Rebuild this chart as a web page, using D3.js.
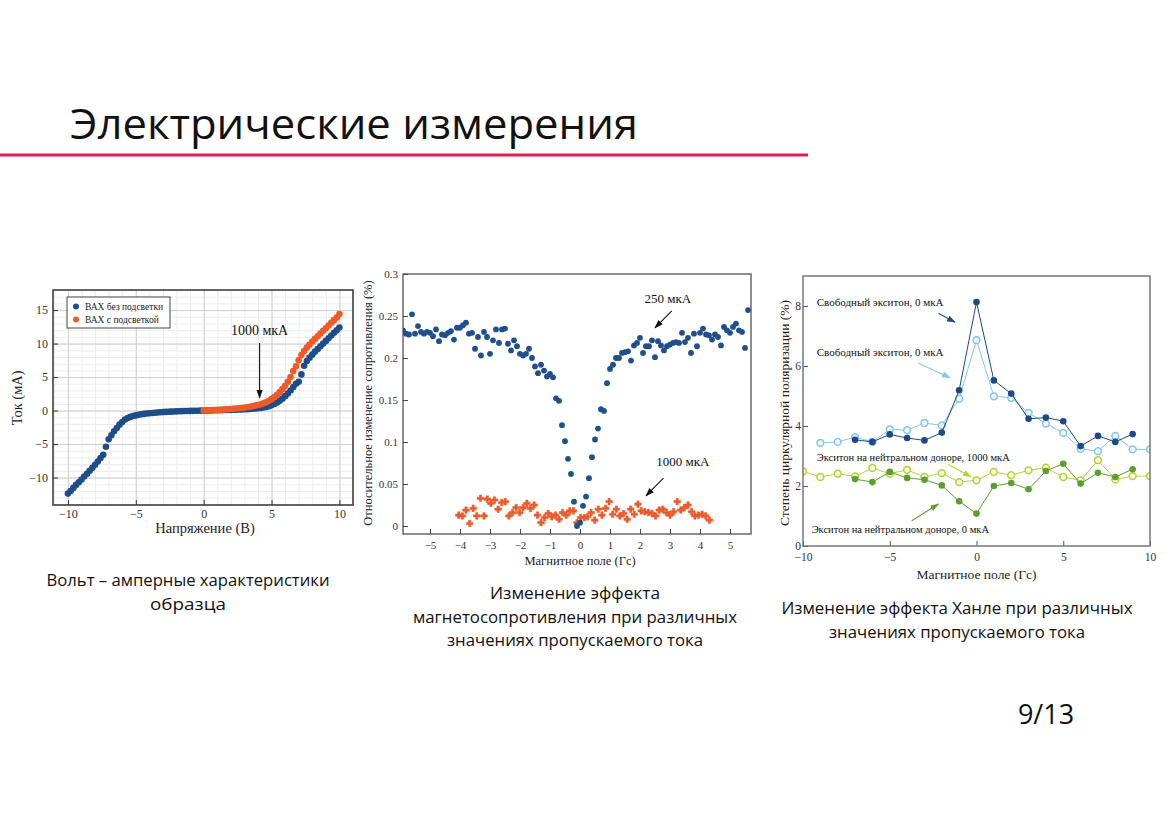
<!DOCTYPE html>
<html>
<head>
<meta charset="utf-8">
<script src="https://cdn.jsdelivr.net/npm/d3@7"></script>
<style>
  body { margin: 0; background: #fff; }
  svg { display: block; }
  .axis text { font-family: "Liberation Serif", serif; fill: #333; }
</style>
</head>
<body>
<svg id="slide" width="1169" height="826"></svg>
<script>
// ---------- slide texts
const slideTitle = 'Электрические измерения';
const caption1 = ['Вольт – амперные характеристики', 'образца'];
const caption2 = ['Изменение эффекта', 'магнетосопротивления при различных', 'значениях пропускаемого тока'];
const caption3 = ['Изменение эффекта Ханле при различных', 'значениях пропускаемого тока'];
const pageNo = '9/13';

// ---------- chart 1: I-V curves (V, mA)
const ivTicksX = [-10, -5, 0, 5, 10];
const ivTicksY = [-10, -5, 0, 5, 10, 15];
const ivLegend = ['ВАХ без подсветки', 'ВАХ с подсветкой'];
const ivVoltDark = [
  -10, -9.8, -9.6, -9.4, -9.2, -9, -8.8, -8.6, -8.4, -8.2,
  -8, -7.8, -7.6, -7.4, -7.2, -7, -6.8, -6.6, -6.4, -6.2,
  -6, -5.8, -5.6, -5.4, -5.2, -5, -4.8, -4.6, -4.4, -4.2,
  -4, -3.8, -3.6, -3.4, -3.2, -3, -2.8, -2.6, -2.4, -2.2,
  -2, -1.8, -1.6, -1.4, -1.2, -1, -0.8, -0.6, -0.4, -0.2,
  0, 0.2, 0.4, 0.6, 0.8, 1, 1.2, 1.4, 1.6, 1.8,
  2, 2.2, 2.4, 2.6, 2.8, 3, 3.2, 3.4, 3.6, 3.8,
  4, 4.2, 4.4, 4.6, 4.8, 5, 5.2, 5.4, 5.6, 5.8,
  6, 6.2, 6.4, 6.6, 6.8, 7, 7.2, 7.4, 7.6, 7.8,
  8, 8.2, 8.4, 8.6, 8.8, 9, 9.2, 9.4, 9.6, 9.8,
  10];
const ivCurDark = [
  -12.4, -12.0, -11.55, -11.1, -10.7, -10.3, -9.85, -9.45, -9.0, -8.55,
  -8.1, -7.6, -7.1, -6.6, -5.4, -4.3, -3.7, -3.1, -2.6, -2.1,
  -1.7, -1.35, -1.1, -0.95, -0.82, -0.72, -0.63, -0.56, -0.5, -0.45,
  -0.4, -0.36, -0.32, -0.29, -0.26, -0.23, -0.2, -0.18, -0.16, -0.14,
  -0.12, -0.1, -0.09, -0.07, -0.06, -0.05, -0.04, -0.03, -0.02, -0.01,
  0, 0.01, 0.02, 0.03, 0.04, 0.05, 0.06, 0.07, 0.08, 0.09,
  0.1, 0.12, 0.13, 0.15, 0.17, 0.19, 0.21, 0.24, 0.27, 0.31,
  0.35, 0.4, 0.46, 0.55, 0.66, 0.8, 0.98, 1.2, 1.47, 1.78,
  2.15, 2.55, 3.0, 3.5, 4.0, 4.3, 5.4, 6.7, 7.4, 7.9,
  8.35, 8.8, 9.2, 9.6, 10.0, 10.4, 10.8, 11.2, 11.6, 12.0,
  12.4];
const ivVoltLight = [
  0, 0.2, 0.4, 0.6, 0.8, 1, 1.2, 1.4, 1.6, 1.8,
  2, 2.2, 2.4, 2.6, 2.8, 3, 3.2, 3.4, 3.6, 3.8,
  4, 4.2, 4.4, 4.6, 4.8, 5, 5.2, 5.4, 5.6, 5.8,
  6, 6.2, 6.4, 6.6, 6.8, 7, 7.2, 7.4, 7.6, 7.8,
  8, 8.2, 8.4, 8.6, 8.8, 9, 9.2, 9.4, 9.6, 9.8,
  10];
const ivCurLight = [
  0, 0.02, 0.04, 0.06, 0.08, 0.1, 0.12, 0.14, 0.17, 0.2,
  0.23, 0.26, 0.3, 0.34, 0.39, 0.44, 0.5, 0.57, 0.65, 0.74,
  0.84, 0.95, 1.08, 1.25, 1.45, 1.7, 2.0, 2.35, 2.75, 3.2,
  3.7, 4.3, 5.0, 5.9, 6.6, 7.5, 8.3, 8.9, 9.4, 9.85,
  10.3, 10.7, 11.1, 11.5, 11.9, 12.3, 12.7, 13.1, 13.5, 13.9,
  14.4];

// ---------- chart 2: magnetoresistance (Гс, %)
const mrTicksX = [-5, -4, -3, -2, -1, 0, 1, 2, 3, 4, 5];
const mrTicksY = [0, 0.05, 0.1, 0.15, 0.2, 0.25, 0.3];
const mrField250 = [
  -5.9, -5.8, -5.7, -5.6, -5.5, -5.4, -5.3, -5.2, -5.1, -5.0,
  -4.9, -4.8, -4.7, -4.6, -4.5, -4.4, -4.3, -4.2, -4.1, -4.0,
  -3.9, -3.8, -3.7, -3.6, -3.5, -3.4, -3.3, -3.2, -3.1, -3.0,
  -2.9, -2.8, -2.7, -2.6, -2.5, -2.4, -2.3, -2.2, -2.1, -2.0,
  -1.9, -1.8, -1.7, -1.6, -1.5, -1.4, -1.3, -1.2, -1.1, -1.0,
  -0.9, -0.8, -0.7, -0.6, -0.5, -0.4, -0.3, -0.2, -0.1, 0,
  0.1, 0.2, 0.3, 0.4, 0.5, 0.6, 0.7, 0.8, 0.9, 1.0,
  1.1, 1.2, 1.3, 1.4, 1.5, 1.6, 1.7, 1.8, 1.9, 2.0,
  2.1, 2.2, 2.3, 2.4, 2.5, 2.6, 2.7, 2.8, 2.9, 3.0,
  3.1, 3.2, 3.3, 3.4, 3.5, 3.6, 3.7, 3.8, 3.9, 4.0,
  4.1, 4.2, 4.3, 4.4, 4.5, 4.6, 4.7, 4.8, 4.9, 5.0,
  5.1, 5.2, 5.3, 5.4, 5.5, 5.6];
const mrValue250 = [
  0.233, 0.229, 0.228, 0.252, 0.229, 0.238, 0.231, 0.229, 0.231, 0.230,
  0.226, 0.234, 0.220, 0.228, 0.227, 0.230, 0.232, 0.222, 0.236, 0.236,
  0.239, 0.242, 0.229, 0.230, 0.211, 0.225, 0.203, 0.231, 0.225, 0.205,
  0.221, 0.234, 0.218, 0.234, 0.235, 0.217, 0.209, 0.221, 0.214, 0.205,
  0.203, 0.205, 0.211, 0.200, 0.190, 0.182, 0.192, 0.185, 0.178, 0.181,
  0.177, 0.152, 0.149, 0.120, 0.101, 0.080, 0.062, 0.029, 0.000, 0.004,
  0.024, 0.035, 0.057, 0.082, 0.103, 0.116, 0.139, 0.137, 0.170, 0.187,
  0.192, 0.200, 0.200, 0.206, 0.207, 0.208, 0.197, 0.215, 0.218, 0.224,
  0.206, 0.214, 0.214, 0.221, 0.201, 0.220, 0.215, 0.209, 0.214, 0.216,
  0.218, 0.219, 0.218, 0.230, 0.219, 0.224, 0.206, 0.229, 0.214, 0.230,
  0.235, 0.228, 0.227, 0.222, 0.228, 0.225, 0.215, 0.237, 0.233, 0.230,
  0.237, 0.241, 0.233, 0.231, 0.212, 0.257];
const mrField1000 = [
  -4.04, -3.92, -3.80, -3.68, -3.56, -3.44, -3.32, -3.20, -3.09, -2.97,
  -2.85, -2.73, -2.61, -2.49, -2.37, -2.25, -2.13, -2.01, -1.89, -1.77,
  -1.65, -1.53, -1.42, -1.30, -1.18, -1.06, -0.94, -0.82, -0.70, -0.58,
  -0.46, -0.34, -0.22, -0.10, 0.02, 0.14, 0.25, 0.37, 0.49, 0.61,
  0.73, 0.85, 0.97, 1.09, 1.21, 1.33, 1.45, 1.57, 1.69, 1.81,
  1.93, 2.04, 2.16, 2.28, 2.40, 2.52, 2.64, 2.76, 2.88, 3.00,
  3.12, 3.24, 3.36, 3.48, 3.60, 3.72, 3.83, 3.95, 4.07, 4.19,
  4.31];
const mrValue1000 = [
  0.013, 0.012, 0.019, 0.003, 0.021, 0.012, 0.033, 0.012, 0.032, 0.027,
  0.031, 0.020, 0.028, 0.029, 0.012, 0.016, 0.022, 0.016, 0.022, 0.027,
  0.021, 0.025, 0.013, 0.004, 0.010, 0.015, 0.011, 0.013, 0.008, 0.016,
  0.013, 0.018, 0.018, 0.004, 0.010, 0.010, 0.011, 0.016, 0.007, 0.020,
  0.013, 0.021, 0.029, 0.014, 0.020, 0.012, 0.015, 0.008, 0.020, 0.014,
  0.026, 0.018, 0.017, 0.016, 0.015, 0.012, 0.019, 0.020, 0.016, 0.013,
  0.017, 0.029, 0.019, 0.022, 0.025, 0.017, 0.012, 0.013, 0.014, 0.012,
  0.007];

// ---------- chart 3: Hanle effect (Гс, %)
const hnTicksX = [-10, -5, 0, 5, 10];
const hnTicksY = [0, 2, 4, 6, 8];
const hnFieldA = [-7, -6, -5, -4, -3, -2, -1, 0, 1, 2, 3, 4, 5, 6, 7, 8, 9];
const hnFieldB = [-9, -8, -7, -6, -5, -4, -3, -2, -1, 0, 1, 2, 3, 4, 5, 6, 7, 8, 9, 10];
const hnFieldC = [-10, -9, -8, -7, -6, -5, -4, -3, -2, -1, 0, 1, 2, 3, 4, 5, 6, 7, 8, 9, 10];
const freeExc0 = [3.54, 3.47, 3.72, 3.6, 3.52, 3.78, 5.19, 8.13, 5.52, 5.08, 4.24, 4.28, 4.16, 3.33, 3.67, 3.47, 3.73];
const freeExc1000 = [3.44, 3.47, 3.63, 3.47, 3.89, 3.86, 4.1, 4.02, 4.91, 6.86, 4.99, 4.94, 4.44, 4.08, 3.77, 3.24, 3.16, 3.67, 3.22, 3.22];
const donor1000 = [2.49, 2.3, 2.41, 2.32, 2.6, 2.41, 2.54, 2.3, 2.43, 2.13, 2.19, 2.47, 2.36, 2.52, 2.61, 2.3, 2.19, 2.86, 2.22, 2.33, 2.33];
const donor0 = [2.23, 2.13, 2.47, 2.27, 2.21, 2.02, 1.49, 1.08, 2.0, 2.1, 1.89, 2.5, 2.74, 2.08, 2.44, 2.3, 2.56];
const hnLabels = ['Свободный экситон, 0 мкА', 'Свободный экситон, 0 мкА',
  'Экситон на нейтральном доноре, 1000 мкА', 'Экситон на нейтральном доноре, 0 мкА'];

const serif = '"Liberation Serif", "Times New Roman", serif';
const sans = '"Open Sans", "Liberation Sans", sans-serif';

const svg = d3.select('#slide');
const defs = svg.append('defs');

function arrowHead(id, color) {
  defs.append('marker')
    .attr('id', id)
    .attr('viewBox', '0 0 10 10')
    .attr('refX', 9).attr('refY', 5)
    .attr('markerWidth', 8).attr('markerHeight', 8)
    .attr('orient', 'auto')
    .append('path')
    .attr('d', 'M0,1.5L10,5L0,8.5z')
    .attr('fill', color);
}
arrowHead('ah-black', '#111');
arrowHead('ah-dark', '#1b4a85');
arrowHead('ah-light', '#86c5ea');
arrowHead('ah-yellow', '#b3d235');
arrowHead('ah-green', '#5c9e2f');

// draws an arrow between two points given in data units
function arrow(g, x, y, from, to, id, color) {
  g.append('line')
    .attr('x1', x(from[0])).attr('y1', y(from[1]))
    .attr('x2', x(to[0])).attr('y2', y(to[1]))
    .attr('stroke', color).attr('stroke-width', 1.1)
    .attr('marker-end', `url(#${id})`);
}

// inward ticks on bottom + left, majors labelled, minors blank
function frameAxes(g, x, y, h, o) {
  const xa = g.append('g').attr('class', 'axis').attr('transform', `translate(0,${h})`);
  xa.call(d3.axisBottom(x).tickValues(o.minorX).tickSize(-3).tickFormat(''));
  xa.call(d3.axisBottom(x).tickValues(o.majorX).tickSizeInner(-5).tickSizeOuter(0).tickPadding(o.padX));
  const ya = g.append('g').attr('class', 'axis');
  ya.call(d3.axisLeft(y).tickValues(o.minorY).tickSize(-3).tickFormat(''));
  ya.call(d3.axisLeft(y).tickValues(o.majorY).tickSizeInner(-5).tickSizeOuter(0).tickPadding(o.padY).tickFormat(o.fmtY || null));
  g.selectAll('.axis .domain').remove();
  g.selectAll('.axis line').attr('stroke', o.tickColor);
  g.selectAll('.axis text').attr('font-size', o.fontSize);
}

// ---------- slide header
svg.append('text')
  .attr('x', 70).attr('y', 139)
  .attr('font-family', sans).attr('font-size', 42)
  .attr('textLength', 568).attr('lengthAdjust', 'spacingAndGlyphs')
  .attr('fill', '#111')
  .text(slideTitle);

svg.append('line')
  .attr('x1', 0).attr('x2', 808).attr('y1', 155).attr('y2', 155)
  .attr('stroke', '#dc2150').attr('stroke-width', 3);

function caption(lines, cx, y0, widths) {
  lines.forEach((t, i) => {
    svg.append('text')
      .attr('x', cx).attr('y', y0 + i * 23.5)
      .attr('text-anchor', 'middle')
      .attr('font-family', sans).attr('font-size', 16.5)
      .attr('textLength', widths[i]).attr('lengthAdjust', 'spacingAndGlyphs')
      .attr('fill', '#111')
      .text(t);
  });
}
caption(caption1, 188, 586, [283, 76]);
caption(caption2, 575, 599, [170, 324, 256]);
caption(caption3, 957, 614, [351, 256]);

svg.append('text')
  .attr('x', 1046).attr('y', 724)
  .attr('text-anchor', 'middle')
  .attr('font-family', sans).attr('font-size', 27)
  .attr('fill', '#111')
  .text(pageNo);

// ================= chart 1 =================
{
  const c = { left: 53, top: 290, width: 300, height: 215 };
  const g = svg.append('g').attr('transform', `translate(${c.left},${c.top})`);
  const x = d3.scaleLinear().domain([-11.1, 11]).range([0, c.width]);
  const y = d3.scaleLinear().domain([-14.1, 18]).range([c.height, 0]);

  // fine grid every 1, then the coarse one every 5
  const grid = g.append('g');
  grid.append('g').attr('transform', `translate(0,${c.height})`)
    .call(d3.axisBottom(x).tickValues(d3.range(-11, 12)).tickSize(-c.height).tickFormat(''));
  grid.append('g')
    .call(d3.axisLeft(y).tickValues(d3.range(-14, 19)).tickSize(-c.width).tickFormat(''));
  grid.selectAll('line').attr('stroke', '#ececec');
  const grid2 = g.append('g');
  grid2.append('g').attr('transform', `translate(0,${c.height})`)
    .call(d3.axisBottom(x).tickValues(ivTicksX).tickSize(-c.height).tickFormat(''));
  grid2.append('g')
    .call(d3.axisLeft(y).tickValues(ivTicksY).tickSize(-c.width).tickFormat(''));
  grid2.selectAll('line').attr('stroke', '#cfcfcf');
  g.selectAll('.domain').remove();

  frameAxes(g, x, y, c.height, {
    majorX: ivTicksX, minorX: d3.range(-11, 12),
    majorY: ivTicksY, minorY: d3.range(-14, 19),
    padX: 4, padY: 5, fontSize: 12, tickColor: '#333'
  });

  const dark = ivVoltDark.map((v, i) => ({ v, c: ivCurDark[i] }));
  const light = ivVoltLight.map((v, i) => ({ v, c: ivCurLight[i] }));

  g.append('g').selectAll('circle').data(dark).join('circle')
    .attr('cx', d => x(d.v)).attr('cy', d => y(d.c)).attr('r', 3.3)
    .attr('fill', '#1d4e89');
  g.append('g').selectAll('circle').data(light).join('circle')
    .attr('cx', d => x(d.v)).attr('cy', d => y(d.c)).attr('r', 3.3)
    .attr('fill', '#f05a28');

  g.append('rect')
    .attr('width', c.width).attr('height', c.height)
    .attr('fill', 'none').attr('stroke', '#333').attr('stroke-width', 1.5);

  // legend
  const lg = g.append('g').attr('transform', 'translate(14,7)');
  lg.append('rect').attr('width', 103).attr('height', 31)
    .attr('fill', '#fff').attr('stroke', '#444').attr('stroke-width', 1);
  ivLegend.forEach((t, i) => {
    lg.append('circle').attr('cx', 9).attr('cy', 9.5 + i * 13).attr('r', 3)
      .attr('fill', i === 0 ? '#1d4e89' : '#f05a28');
    lg.append('text').attr('x', 18).attr('y', 12.5 + i * 13)
      .attr('font-family', serif).attr('font-size', 9.5).attr('fill', '#222')
      .text(t);
  });

  g.append('text')
    .attr('x', x(4.12)).attr('y', y(11.3))
    .attr('text-anchor', 'middle')
    .attr('font-family', serif).attr('font-size', 14).attr('fill', '#111')
    .text('1000 мкА');
  arrow(g, x, y, [4.12, 10.1], [4.12, 1.9], 'ah-black', '#111');

  g.append('text')
    .attr('x', c.width / 2 + 2).attr('y', c.height + 28)
    .attr('text-anchor', 'middle')
    .attr('font-family', serif).attr('font-size', 14.5).attr('fill', '#222')
    .text('Напряжение (В)');
  g.append('text')
    .attr('transform', `translate(-31,${y(1.9)}) rotate(-90)`)
    .attr('text-anchor', 'middle')
    .attr('font-family', serif).attr('font-size', 14.5).attr('fill', '#222')
    .text('Ток (мА)');
}

// ================= chart 2 =================
{
  const c = { left: 403, top: 274, width: 348, height: 260 };
  const g = svg.append('g').attr('transform', `translate(${c.left},${c.top})`);
  const x = d3.scaleLinear().domain([-5.9, 5.7]).range([0, c.width]);
  const y = d3.scaleLinear().domain([-0.0095, 0.3]).range([c.height, 0]);

  defs.append('clipPath').attr('id', 'clip-mr')
    .append('rect').attr('width', c.width).attr('height', c.height);

  frameAxes(g, x, y, c.height, {
    majorX: mrTicksX, minorX: d3.range(-5.5, 5.6, 0.5),
    majorY: mrTicksY, minorY: d3.range(0, 0.3, 0.025),
    padX: 7, padY: 5, fontSize: 11, tickColor: '#444',
    fmtY: d => d === 0 ? '0' : d3.format('.2~f')(d)
  });

  const plot = g.append('g').attr('clip-path', 'url(#clip-mr)');
  plot.append('g').selectAll('path')
    .data(mrField1000.map((f, i) => ({ f, v: mrValue1000[i] })))
    .join('path')
    .attr('transform', d => `translate(${x(d.f)},${y(d.v)})`)
    .attr('d', d3.symbol().type(d3.symbolCross).size(24))
    .attr('fill', '#ec5b2b')
    .attr('stroke', '#ec5b2b').attr('stroke-width', 0.6).attr('stroke-linejoin', 'round');
  plot.append('g').selectAll('circle')
    .data(mrField250.map((f, i) => ({ f, v: mrValue250[i] })))
    .join('circle')
    .attr('cx', d => x(d.f)).attr('cy', d => y(d.v)).attr('r', 2.9)
    .attr('fill', '#1f4f8c');

  g.append('rect')
    .attr('width', c.width).attr('height', c.height)
    .attr('fill', 'none').attr('stroke', '#444').attr('stroke-width', 1.2);

  g.append('text').attr('x', x(2.93)).attr('y', y(0.265))
    .attr('text-anchor', 'middle')
    .attr('font-family', serif).attr('font-size', 13).attr('fill', '#111')
    .text('250 мкА');
  arrow(g, x, y, [3.06, 0.256], [2.5, 0.236], 'ah-black', '#111');
  g.append('text').attr('x', x(3.43)).attr('y', y(0.072))
    .attr('text-anchor', 'middle')
    .attr('font-family', serif).attr('font-size', 13).attr('fill', '#111')
    .text('1000 мкА');
  arrow(g, x, y, [2.78, 0.057], [2.2, 0.036], 'ah-black', '#111');

  g.append('text')
    .attr('x', x(0)).attr('y', c.height + 31)
    .attr('text-anchor', 'middle')
    .attr('font-family', serif).attr('font-size', 12.5).attr('fill', '#222')
    .text('Магнитное поле (Гс)');
  g.append('text')
    .attr('transform', `translate(-31,${c.height / 2 - 1}) rotate(-90)`)
    .attr('text-anchor', 'middle')
    .attr('font-family', serif).attr('font-size', 12.5).attr('fill', '#222')
    .text('Относительное изменение сопротивления (%)');
}

// ================= chart 3 =================
{
  const c = { left: 803, top: 276, width: 347, height: 270 };
  const g = svg.append('g').attr('transform', `translate(${c.left},${c.top})`);
  const x = d3.scaleLinear().domain([-10, 10]).range([0, c.width]);
  const y = d3.scaleLinear().domain([0, 9]).range([c.height, 0]);

  defs.append('clipPath').attr('id', 'clip-hn')
    .append('rect').attr('width', c.width).attr('height', c.height);

  frameAxes(g, x, y, c.height, {
    majorX: hnTicksX, minorX: [-7.5, -2.5, 2.5, 7.5],
    majorY: hnTicksY, minorY: [1, 3, 5, 7],
    padX: 7, padY: 2, fontSize: 11.5, tickColor: '#555'
  });

  const plot = g.append('g').attr('clip-path', 'url(#clip-hn)');
  const line = d3.line().x(d => x(d.f)).y(d => y(d.v));
  const series = [
    { f: hnFieldC, v: donor1000, color: '#b3d235', fill: '#f4f9e0', open: true },
    { f: hnFieldA, v: donor0, color: '#5c9e2f', open: false },
    { f: hnFieldB, v: freeExc1000, color: '#86c5ea', fill: '#eaf5fc', open: true },
    { f: hnFieldA, v: freeExc0, color: '#1b4a85', open: false }
  ];
  series.forEach(s => {
    const pts = s.f.map((f, i) => ({ f, v: s.v[i] }));
    plot.append('path').datum(pts)
      .attr('d', line).attr('fill', 'none')
      .attr('stroke', s.color).attr('stroke-width', 1);
    plot.append('g').selectAll('circle').data(pts).join('circle')
      .attr('cx', d => x(d.f)).attr('cy', d => y(d.v))
      .attr('r', s.open ? 3.4 : 3.3)
      .attr('fill', s.open ? s.fill : s.color)
      .attr('stroke', s.open ? s.color : 'none')
      .attr('stroke-width', 1.5);
  });

  g.append('rect')
    .attr('width', c.width).attr('height', c.height)
    .attr('fill', 'none').attr('stroke', '#777').attr('stroke-width', 1.5);

  // annotations: label anchor + arrow, all in data units
  const notes = [
    { t: hnLabels[0], at: [-9.21, 8.0], from: [-2.2, 7.76], to: [-1.24, 7.46], id: 'ah-dark', color: '#1b4a85', fs: 11 },
    { t: hnLabels[1], at: [-9.21, 6.32], from: [-3.35, 6.09], to: [-1.53, 5.61], id: 'ah-light', color: '#86c5ea', fs: 11 },
    { t: hnLabels[2], at: [-9.21, 2.83], from: [-1.63, 2.72], to: [-0.32, 2.31], id: 'ah-yellow', color: '#b3d235', fs: 10.5 },
    { t: hnLabels[3], at: [-9.5, 0.45], from: [-3.73, 0.84], to: [-2.2, 1.4], id: 'ah-green', color: '#5c9e2f', fs: 10.5 }
  ];
  notes.forEach(n => {
    g.append('text').attr('x', x(n.at[0])).attr('y', y(n.at[1]))
      .attr('font-family', serif).attr('font-size', n.fs).attr('fill', '#111')
      .text(n.t);
    arrow(g, x, y, n.from, n.to, n.id, n.color);
  });

  g.append('text')
    .attr('x', x(0)).attr('y', c.height + 33)
    .attr('text-anchor', 'middle')
    .attr('font-family', serif).attr('font-size', 13.5).attr('fill', '#222')
    .text('Магнитное поле (Гс)');
  g.append('text')
    .attr('transform', `translate(-14,${c.height / 2 + 2}) rotate(-90)`)
    .attr('text-anchor', 'middle')
    .attr('font-family', serif).attr('font-size', 13.5).attr('fill', '#222')
    .text('Степень циркулярной поляризации (%)');
}
</script>
</body>
</html>
